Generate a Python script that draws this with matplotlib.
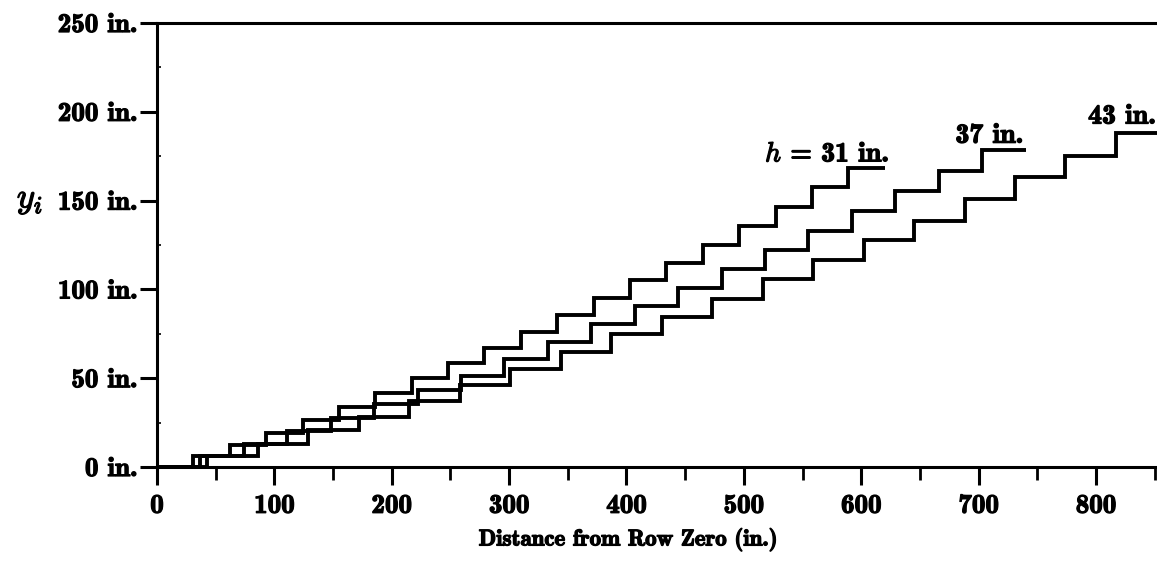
import numpy as np
import matplotlib
matplotlib.use('Agg')
import matplotlib.pyplot as plt
from matplotlib import patheffects as pe
from matplotlib.ticker import MultipleLocator

# row spacing h (in.) and riser heights y_i, rows 0..19
spacing = [31, 37, 43]
y_h31 = [0, 6.2, 12.4, 19.0, 26.3, 33.8, 41.6, 50.0, 58.5, 67.0,
         76.2, 85.6, 95.0, 105.3, 114.8, 125.0, 135.7, 146.2, 157.5, 168.3]
y_h37 = [0, 6.3, 13.0, 20.0, 27.6, 35.5, 43.5, 51.5, 61.0, 70.6,
         80.4, 90.7, 100.7, 111.3, 122.2, 133.1, 144.1, 155.4, 166.5, 178.6]
y_h43 = [0, 6.4, 13.2, 20.6, 28.4, 37.0, 46.0, 55.4, 64.8, 74.8,
         84.6, 94.6, 105.6, 116.6, 127.8, 138.7, 151.0, 163.2, 175.0, 187.8]
labels = [r'$h$ = 31 in.', '37 in.', '43 in.']

yticks = [0, 50, 100, 150, 200, 250]
ytick_labels = ['%d in.' % v for v in yticks]

plt.rcParams['font.family'] = 'cmb10'
plt.rcParams['mathtext.fontset'] = 'cm'
plt.rcParams['axes.unicode_minus'] = False
bold = [pe.withStroke(linewidth=0.9, foreground='black')]

fig = plt.figure(figsize=(11.57, 5.61), dpi=100)
ax = fig.add_axes([157 / 1157, 1 - 467 / 561, 1000 / 1157, 444 / 561])

# label offsets (x right edge shift, baseline lift) in data units
lab_off = [(4, 3.7), (-2, 4.0), (-9, 5.6)]
for h, ys, lab, off in zip(spacing, [y_h31, y_h37, y_h43], labels, lab_off):
    edges = np.arange(len(ys) + 1) * h
    st = ax.stairs(ys, edges, baseline=None, color='black', lw=2.8)
    st.set_joinstyle('miter')
    ax.text(edges[-1] + off[0], ys[-1] + off[1], lab, ha='right', va='baseline',
            fontsize=20, clip_on=False, path_effects=bold)

ax.set_xlim(0, 852)
ax.set_ylim(0, 250)
ax.spines['right'].set_visible(False)
for s in ['left', 'top', 'bottom']:
    ax.spines[s].set_linewidth(2.2)

ax.set_yticks(yticks)
ax.set_yticklabels(ytick_labels)
ax.yaxis.set_minor_locator(MultipleLocator(25))
ax.tick_params(axis='y', which='major', direction='out', length=12, width=2.2,
               pad=2, labelsize=19.5)
ax.tick_params(axis='y', which='minor', direction='in', length=3, width=1.2)

ax.xaxis.set_major_locator(MultipleLocator(100))
ax.xaxis.set_minor_locator(MultipleLocator(50))
ax.tick_params(axis='x', which='major', direction='out', length=13, width=2.2,
               pad=7, labelsize=19.5)
ax.tick_params(axis='x', which='minor', direction='out', length=9, width=2.0)

for t in ax.get_xticklabels() + ax.get_yticklabels():
    t.set_path_effects(bold)

ax.set_xlabel('Distance from Row Zero (in.)', fontsize=16.5, path_effects=bold)
ax.xaxis.set_label_coords(0.471, -0.135)

fig.text(30 / 1157, 1 - 201 / 561, r'$y_i$', fontsize=25, ha='center',
         va='center', path_effects=bold)

fig.savefig('out.png', dpi=100)
